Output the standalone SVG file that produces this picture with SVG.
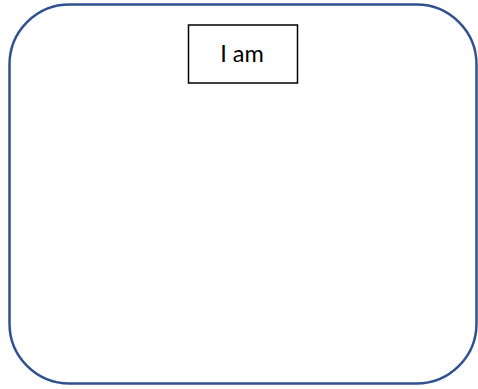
<svg xmlns="http://www.w3.org/2000/svg" width="478" height="389" viewBox="0 0 478 389">
<style>
.frame{fill:#fff;stroke:#2F528F;stroke-width:2.5}
.box{fill:#fff;stroke:#000;stroke-width:1.5}
.lbl{font-family:"Lato","Open Sans","Liberation Sans",sans-serif;font-size:23.5px;fill:#000}
</style>
<rect width="478" height="389" fill="#fff"/>
<g id="container"><rect class="frame" x="9.5" y="4.5" width="467" height="379" rx="60" ry="60"/></g>
<g id="node-iam"><rect class="box" x="188.5" y="25" width="109" height="58"/><text class="lbl" x="242" y="62" text-anchor="middle">I am</text></g>
<g id="connectors"/>
</svg>
